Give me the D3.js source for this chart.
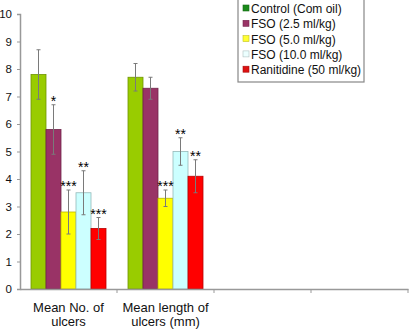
<!DOCTYPE html>
<html>
<head>
<meta charset="utf-8">
<script src="https://cdn.jsdelivr.net/npm/d3@7"></script>
<style>
  body { margin: 0; background: #fff; }
  svg { font-family: "Liberation Sans", Arial, sans-serif; }
</style>
</head>
<body>
<svg id="chart"></svg>
<script>
// categories on the x axis (two empty slots on the right, as in the original)
var categories = ["Mean No. of ulcers", "Mean length of ulcers (mm)", "c3", "c4"];
var categoryLines = [["Mean No. of", "ulcers"], ["Mean length of", "ulcers (mm)"], [], []];

var seriesNames = ["Control (Com oil)", "FSO (2.5 ml/kg)", "FSO (5.0 ml/kg)", "FSO (10.0 ml/kg)", "Ranitidine (50 ml/kg)"];
var barColors = ["#99cc00", "#993366", "#ffff00", "#ccffff", "#ff0000"];
var swatchColors = ["#1a8a1a", "#993366", "#ffff33", "#ecffff", "#dd1111"];

// values per series, for the two populated categories
var controlValues = [7.8, 7.7];
var fso25Values = [5.8, 7.3];
var fso50Values = [2.8, 3.3];
var fso100Values = [3.5, 5.0];
var ranitidineValues = [2.2, 4.1];

var controlErr = [0.9, 0.5];
var fso25Err = [0.9, 0.4];
var fso50Err = [0.8, 0.3];
var fso100Err = [0.8, 0.5];
var ranitidineErr = [0.4, 0.6];

var controlSig = ["", ""];
var fso25Sig = ["*", ""];
var fso50Sig = ["***", "***"];
var fso100Sig = ["**", "**"];
var ranitidineSig = ["***", "**"];

var yTicks = [0, 1, 2, 3, 4, 5, 6, 7, 8, 9, 10];

var allValues = [controlValues, fso25Values, fso50Values, fso100Values, ranitidineValues];
var allErr = [controlErr, fso25Err, fso50Err, fso100Err, ranitidineErr];
var allSig = [controlSig, fso25Sig, fso50Sig, fso100Sig, ranitidineSig];

var dimensions = { width: 409, height: 330, margins: { top: 14, right: 1, bottom: 41, left: 20 } };
var innerW = dimensions.width - dimensions.margins.left - dimensions.margins.right;
var innerH = dimensions.height - dimensions.margins.top - dimensions.margins.bottom;

var svg = d3.select("#chart")
    .attr("width", dimensions.width)
    .attr("height", dimensions.height)
    .append("g")
    .attr("transform", "translate(" + dimensions.margins.left + "," + dimensions.margins.top + ")");

var xScale = d3.scaleBand().domain(categories).range([0, innerW]).paddingInner(0).paddingOuter(0);
var xInner = d3.scaleBand().domain(seriesNames).range([11, xScale.bandwidth() - 11]);
var yScale = d3.scaleLinear().domain([0, 10]).range([innerH, 0]);

// flatten data into bar records
var bars = [];
seriesNames.forEach(function (s, i) {
    allValues[i].forEach(function (v, j) {
        bars.push({ series: s, idx: i, cat: categories[j], value: v, err: allErr[i][j], sig: allSig[i][j] });
    });
});

// bars
svg.selectAll("rect.bar")
    .data(bars)
    .enter()
    .append("rect")
    .attr("class", "bar")
    .attr("x", d => xScale(d.cat) + xInner(d.series))
    .attr("y", d => yScale(d.value))
    .attr("width", xInner.bandwidth())
    .attr("height", d => innerH - yScale(d.value))
    .attr("fill", d => barColors[d.idx])
    .attr("stroke", d => d3.color(barColors[d.idx]).darker(0.9))
    .attr("stroke-width", 0.8);

// error bars
var errG = svg.selectAll("g.err").data(bars).enter().append("g")
    .attr("class", "err")
    .attr("stroke", "#7a7a7a")
    .attr("stroke-width", 1);
errG.append("line")
    .attr("x1", d => xScale(d.cat) + xInner(d.series) + xInner.bandwidth() / 2)
    .attr("x2", d => xScale(d.cat) + xInner(d.series) + xInner.bandwidth() / 2)
    .attr("y1", d => yScale(d.value + d.err))
    .attr("y2", d => yScale(d.value - d.err));
[1, -1].forEach(function (sgn) {
    errG.append("line")
        .attr("x1", d => xScale(d.cat) + xInner(d.series) + xInner.bandwidth() / 2 - 2)
        .attr("x2", d => xScale(d.cat) + xInner(d.series) + xInner.bandwidth() / 2 + 2)
        .attr("y1", d => yScale(d.value + sgn * d.err))
        .attr("y2", d => yScale(d.value + sgn * d.err));
});

// significance stars
svg.selectAll("text.sig")
    .data(bars.filter(d => d.sig))
    .enter()
    .append("text")
    .attr("class", "sig")
    .attr("x", d => xScale(d.cat) + xInner(d.series) + xInner.bandwidth() / 2)
    .attr("y", d => yScale(d.value + d.err) + 1)
    .attr("text-anchor", "middle")
    .style("font-size", "14px")
    .text(d => d.sig);

// y axis
var yAxis = svg.append("g")
    .call(d3.axisLeft(yScale).tickValues(yTicks).tickSize(3).tickPadding(5));
yAxis.select(".domain").attr("stroke", "#999").attr("stroke-width", 1.5);
yAxis.selectAll(".tick line").attr("stroke", "#999");
yAxis.selectAll(".tick text").style("font-size", "11.5px").attr("fill", "#111");

// x axis
var xAxis = svg.append("g")
    .attr("transform", "translate(0," + innerH + ")")
    .call(d3.axisBottom(xScale).tickSize(0).tickFormat(""));
xAxis.select(".domain").attr("stroke", "#999").attr("stroke-width", 1.5);
xAxis.selectAll(".tick").remove();
// category dividers
xAxis.selectAll("line.div")
    .data(categories)
    .enter()
    .append("line")
    .attr("class", "div")
    .attr("x1", d => xScale(d) + xScale.bandwidth())
    .attr("x2", d => xScale(d) + xScale.bandwidth())
    .attr("y1", 0)
    .attr("y2", 4)
    .attr("stroke", "#999");

// category labels
categories.forEach(function (c, j) {
    categoryLines[j].forEach(function (line, k) {
        svg.append("text")
            .attr("x", xScale(c) + xScale.bandwidth() / 2)
            .attr("y", innerH + 23 + k * 14)
            .attr("text-anchor", "middle")
            .style("font-size", "13px")
            .attr("fill", "#111")
            .text(line);
    });
});

// legend
var legend = d3.select("#chart").append("g").attr("transform", "translate(238,0)");
legend.append("rect")
    .attr("x", 0).attr("y", -2)
    .attr("width", 126).attr("height", 84)
    .attr("fill", "#fff")
    .attr("stroke", "#888")
    .attr("stroke-width", 1.2);
var legItems = legend.selectAll("g.item").data(seriesNames).enter().append("g")
    .attr("class", "item")
    .attr("transform", (d, i) => "translate(0," + (10 + i * 15.3) + ")");
legItems.append("rect")
    .attr("x", 5).attr("y", -5)
    .attr("width", 6).attr("height", 6)
    .attr("fill", (d, i) => swatchColors[i])
    .attr("stroke", (d, i) => d3.color(swatchColors[i]).darker(0.8))
    .attr("stroke-width", 0.6);
legItems.append("text")
    .attr("x", 13)
    .attr("y", 3)
    .style("font-size", "12px")
    .attr("fill", "#111")
    .text(d => d);
</script>
</body>
</html>
